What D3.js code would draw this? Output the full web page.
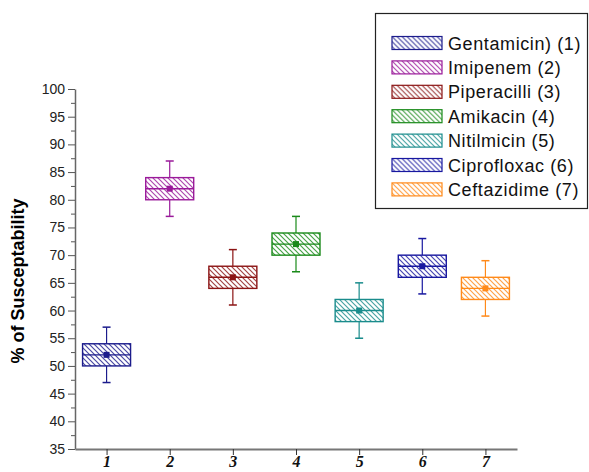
<!DOCTYPE html>
<html>
<head>
<meta charset="utf-8">
<script src="https://cdn.jsdelivr.net/npm/d3@7"></script>
<style>
  body { margin: 0; background: #fff; }
  svg { display: block; }
</style>
</head>
<body>
<div id="chart-area"></div>
<script>
// data
var drugs = ["Gentamicin) (1)", "Imipenem (2)", "Piperacilli (3)", "Amikacin (4)",
             "Nitilmicin (5)", "Ciprofloxac (6)", "Ceftazidime (7)"];
var positions = [1, 2, 3, 4, 5, 6, 7];
var whiskerLow = [47, 77, 61, 67, 55, 63, 59];
var boxLow     = [50, 80, 64, 70, 58, 66, 62];
var medians    = [52, 82, 66, 72, 60, 68, 64];
var means      = [52, 82, 66, 72, 60, 68, 64];
var boxHigh    = [54, 84, 68, 74, 62, 70, 66];
var whiskerHigh = [57, 87, 71, 77, 65, 73, 69];
var colors = ["#1c1c8c", "#9a1a9a", "#8b1414", "#1a8a1a", "#1a8c8c", "#1818a0", "#ff8a1a"];
var yTicks = [35, 40, 45, 50, 55, 60, 65, 70, 75, 80, 85, 90, 95, 100];

var W = 589, H = 472;
var svg = d3.select("#chart-area").append("svg")
    .attr("width", W).attr("height", H);

var x = d3.scaleLinear().domain([0.5, 7.5]).range([75, 517]);
var y = d3.scaleLinear().domain([35, 100]).range([449, 89]);

// hatch patterns
var defs = svg.append("defs");
colors.forEach(function(c, i) {
  var p = defs.append("pattern")
      .attr("id", "hatch" + i)
      .attr("patternUnits", "userSpaceOnUse")
      .attr("width", 5).attr("height", 5);
  p.append("rect").attr("width", 5).attr("height", 5).attr("fill", "#fff");
  p.append("path")
      .attr("d", "M0,0 L5,5 M-1,4 L1,6 M4,-1 L6,1")
      .attr("stroke", c).attr("stroke-width", 1.2).attr("opacity", 0.8);
});

var list = positions.map(function(p, i) {
  return {pos: p, name: drugs[i], wl: whiskerLow[i], bl: boxLow[i], med: medians[i],
          mean: means[i], bh: boxHigh[i], wh: whiskerHigh[i], color: colors[i], idx: i};
});

// y axis with minor ticks
var yMinor = d3.range(37.5, 100, 5);
svg.append("g")
    .attr("transform", "translate(75,0)")
    .call(d3.axisLeft(y).tickValues(yMinor).tickSize(4).tickFormat(""))
    .call(function(g) { g.select(".domain").remove(); })
    .selectAll("line").attr("stroke", "#555");
var yAxis = svg.append("g")
    .attr("transform", "translate(75,0)")
    .call(d3.axisLeft(y).tickValues(yTicks).tickSize(7).tickSizeOuter(0)
          .tickPadding(3).tickFormat(d3.format("d")));
yAxis.select(".domain").attr("stroke", "#666").attr("stroke-width", 1.5);
yAxis.selectAll(".tick line").attr("stroke", "#555");
yAxis.selectAll("text")
    .attr("font-family", "Liberation Sans, Arial, sans-serif")
    .attr("font-size", "14px").attr("fill", "#222");

// x axis
var xAxis = svg.append("g")
    .attr("transform", "translate(0,449)")
    .call(d3.axisBottom(x).tickValues(positions).tickSize(6).tickSizeOuter(0)
          .tickFormat(d3.format("d")));
xAxis.select(".domain").attr("stroke", "#777").attr("stroke-width", 1.8);
xAxis.selectAll(".tick line").attr("stroke", "#333");
xAxis.selectAll("text")
    .attr("y", 18).attr("dy", 0)
    .attr("font-family", "Liberation Serif, Times New Roman, serif")
    .attr("font-style", "italic").attr("font-weight", "bold")
    .attr("font-size", "16px").attr("fill", "#111");

// y title
svg.append("text")
    .attr("transform", "rotate(-90)")
    .attr("x", -281).attr("y", 24)
    .attr("text-anchor", "middle")
    .attr("font-family", "Liberation Sans, Arial, sans-serif")
    .attr("font-weight", "bold").attr("font-size", "18px")
    .text("% of Susceptability");

// boxes
var bw = 0.76 * (x(2) - x(1));
var cap = 8;
var g = svg.selectAll(".box").data(list).enter().append("g").attr("class", "box");

g.append("line")
    .attr("x1", function(d) { return x(d.pos); }).attr("x2", function(d) { return x(d.pos); })
    .attr("y1", function(d) { return y(d.wh); }).attr("y2", function(d) { return y(d.bh); })
    .attr("stroke", function(d) { return d.color; }).attr("stroke-width", 1.2);
g.append("line")
    .attr("x1", function(d) { return x(d.pos); }).attr("x2", function(d) { return x(d.pos); })
    .attr("y1", function(d) { return y(d.bl); }).attr("y2", function(d) { return y(d.wl); })
    .attr("stroke", function(d) { return d.color; }).attr("stroke-width", 1.2);
["wh", "wl"].forEach(function(k) {
  g.append("line")
      .attr("x1", function(d) { return x(d.pos) - cap / 2; })
      .attr("x2", function(d) { return x(d.pos) + cap / 2; })
      .attr("y1", function(d) { return y(d[k]); }).attr("y2", function(d) { return y(d[k]); })
      .attr("stroke", function(d) { return d.color; }).attr("stroke-width", 1.5);
});
g.append("rect")
    .attr("x", function(d) { return x(d.pos) - bw / 2; })
    .attr("y", function(d) { return y(d.bh); })
    .attr("width", bw)
    .attr("height", function(d) { return y(d.bl) - y(d.bh); })
    .attr("fill", function(d) { return "url(#hatch" + d.idx + ")"; })
    .attr("stroke", function(d) { return d.color; }).attr("stroke-width", 1.4);
g.append("line")
    .attr("x1", function(d) { return x(d.pos) - bw / 2; })
    .attr("x2", function(d) { return x(d.pos) + bw / 2; })
    .attr("y1", function(d) { return y(d.med); }).attr("y2", function(d) { return y(d.med); })
    .attr("stroke", function(d) { return d.color; }).attr("stroke-width", 1.4);
g.append("rect")
    .attr("x", function(d) { return x(d.pos) - 3; })
    .attr("y", function(d) { return y(d.mean) - 3; })
    .attr("width", 6).attr("height", 6)
    .attr("fill", function(d) { return d.color; });

// legend
svg.append("rect")
    .attr("x", 375.5).attr("y", 13.5).attr("width", 212).attr("height", 195)
    .attr("fill", "#fff").attr("stroke", "#222").attr("stroke-width", 1.2);
var leg = svg.selectAll(".leg").data(list).enter().append("g")
    .attr("transform", function(d, i) { return "translate(392," + (36.5 + i * 24.4) + ")"; });
leg.append("rect")
    .attr("width", 50).attr("height", 13)
    .attr("fill", function(d) { return "url(#hatch" + d.idx + ")"; })
    .attr("stroke", function(d) { return d.color; }).attr("stroke-width", 1.2);
leg.append("text")
    .attr("x", 56).attr("y", 13)
    .attr("font-family", "Liberation Sans, Arial, sans-serif")
    .attr("font-size", "18px").attr("letter-spacing", "0.6px").attr("fill", "#111")
    .text(function(d) { return d.name; });
</script>
</body>
</html>
